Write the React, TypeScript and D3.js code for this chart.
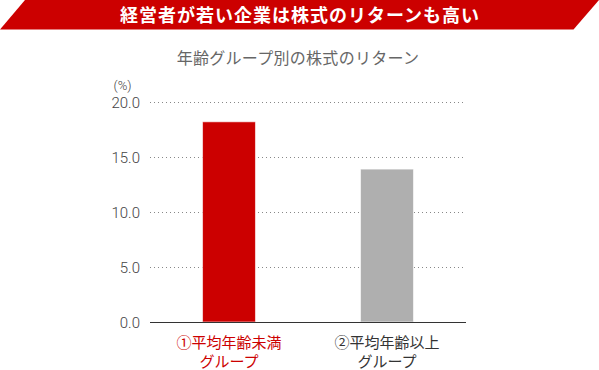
import React, { useEffect, useRef } from "react";
import * as d3 from "d3";

const categories = ["①平均年齢未満|グループ", "②平均年齢以上|グループ"];
const values = [18.2, 13.9];
const barColors = ["#cc0000", "#afafaf"];
const labelColors = ["#cc0000", "#333333"];
const yTicks = [0, 5, 10, 15, 20];

const FONT = "Roboto, 'Noto Sans CJK JP', sans-serif";

export default function App() {
  const svgRef = useRef<SVGSVGElement>(null);

  useEffect(() => {
    const svg = d3.select(svgRef.current);
    svg.selectAll("*").remove();

    const width = 599;
    const height = 370;
    const margin = { top: 102, right: 133, bottom: 48, left: 150 };

    // banner
    svg.append("path")
      .attr("d", "M25,0 L599,0 L573.5,29.5 L0,29.5 Z")
      .attr("fill", "#cc0000");
    svg.append("text")
      .attr("x", 300)
      .attr("y", 22)
      .attr("text-anchor", "middle")
      .attr("fill", "#fff")
      .style("font-family", FONT)
      .style("font-size", "18px")
      .style("font-weight", "700")
      .style("letter-spacing", "1px")
      .text("経営者が若い企業は株式のリターンも高い");

    svg.append("text")
      .attr("x", 298)
      .attr("y", 64)
      .attr("text-anchor", "middle")
      .attr("fill", "#666")
      .style("font-family", FONT)
      .style("font-size", "16px")
      .style("letter-spacing", "0.3px")
      .text("年齢グループ別の株式のリターン");

    const x = d3.scaleBand()
      .domain(categories)
      .range([margin.left, width - margin.right])
      .paddingInner(0.665)
      .paddingOuter(0.3325);

    const y = d3.scaleLinear()
      .domain([0, 20])
      .range([height - margin.bottom, margin.top]);

    // gridlines
    svg.append("g")
      .selectAll("line")
      .data(yTicks.filter((d) => d > 0))
      .join("line")
      .attr("x1", margin.left)
      .attr("x2", width - margin.right)
      .attr("y1", (d) => y(d) + 0.5)
      .attr("y2", (d) => y(d) + 0.5)
      .attr("stroke", "#888")
      .attr("stroke-width", 1)
      .attr("stroke-dasharray", "1,3");

    // tick labels
    svg.append("g")
      .selectAll("text")
      .data(yTicks)
      .join("text")
      .attr("x", 140)
      .attr("y", (d) => y(d) + 5.5)
      .attr("text-anchor", "end")
      .attr("fill", "#444")
      .style("font-family", FONT)
      .style("font-size", "15px")
      .style("font-weight", "300")
      .text((d) => d.toFixed(1));

    svg.append("text")
      .attr("x", 122.5)
      .attr("y", 90)
      .attr("text-anchor", "middle")
      .attr("fill", "#444")
      .style("font-family", FONT)
      .style("font-size", "13px")
      .style("font-weight", "300")
      .text("(%)");

    // bars
    svg.append("g")
      .selectAll("rect")
      .data(values)
      .join("rect")
      .attr("x", (_, i) => x(categories[i])!)
      .attr("y", (d) => y(d))
      .attr("width", x.bandwidth())
      .attr("height", (d) => y(0) - y(d))
      .attr("fill", (_, i) => barColors[i])
      .attr("stroke", "#fff")
      .attr("stroke-opacity", 0.6)
      .attr("stroke-width", 1);

    // baseline
    svg.append("line")
      .attr("x1", margin.left)
      .attr("x2", width - margin.right)
      .attr("y1", y(0) + 0.5)
      .attr("y2", y(0) + 0.5)
      .attr("stroke", "#333")
      .attr("stroke-width", 1);

    // category labels
    const labels = svg.append("g")
      .selectAll("text")
      .data(categories)
      .join("text")
      .attr("text-anchor", "middle")
      .attr("fill", (_, i) => labelColors[i])
      .style("font-family", FONT)
      .style("font-size", "15px");
    labels.each(function (d) {
      const cx = x(d)! + x.bandwidth() / 2;
      d3.select(this)
        .selectAll("tspan")
        .data(d.split("|"))
        .join("tspan")
        .attr("x", cx)
        .attr("y", (_, j) => 348 + j * 19)
        .text((t) => t);
    });
  }, []);

  return (
    <svg
      ref={svgRef}
      width={599}
      height={370}
      style={{ position: "absolute", left: 0, top: 0, background: "#fff" }}
    />
  );
}
